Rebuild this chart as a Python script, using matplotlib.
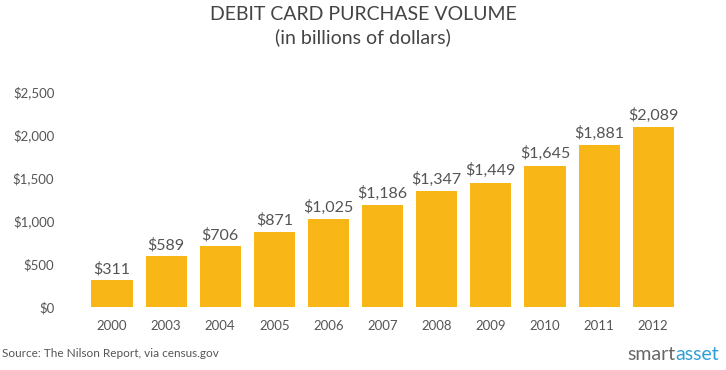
import matplotlib.pyplot as plt

years = ["2000", "2003", "2004", "2005", "2006", "2007", "2008", "2009", "2010", "2011", "2012"]
volume = [311, 589, 706, 871, 1025, 1186, 1347, 1449, 1645, 1881, 2089]
yticks = [0, 500, 1000, 1500, 2000, 2500]

plt.rcParams['font.family'] = ['Lato', 'DejaVu Sans']
grey = '#555555'

fig = plt.figure(figsize=(7.26, 3.70), dpi=100)
ax = fig.add_axes([0.117, 0.170, 0.820, 0.581])

x = range(len(years))
ax.bar(x, volume, width=0.76, color='#F9B617')
for i, v in zip(x, volume):
    ax.text(i, v + 50, "${:,}".format(v), ha='center', va='bottom', fontsize=11.5, color=grey)

ax.set_xlim(-0.5, len(years) - 0.5)
ax.set_ylim(0, 2500)
ax.set_yticks(yticks)
ax.set_yticklabels(["${:,}".format(t) for t in yticks])
ax.set_xticks(list(x))
ax.set_xticklabels(years)
ax.tick_params(length=0, labelsize=9.5, colors=grey)
ax.tick_params(axis='y', pad=22)
ax.tick_params(axis='x', pad=9)
for s in ax.spines.values():
    s.set_visible(False)

fig.text(0.5, 0.985, "DEBIT CARD PURCHASE VOLUME", ha='center', va='top', fontsize=14, color='#444444')
fig.text(0.5, 0.925, "(in billions of dollars)", ha='center', va='top', fontsize=14, color='#444444')
fig.text(0.003, 0.03, "Source: The Nilson Report, via census.gov", ha='left', va='bottom', fontsize=8.5, color=grey)
fig.text(0.93, 0.02, "smart", ha='right', va='bottom', fontsize=14, color='#666666')
fig.text(0.93, 0.02, "asset", ha='left', va='bottom', fontsize=14, color='#2E9FD8')

fig.savefig("out.png", dpi=100)
